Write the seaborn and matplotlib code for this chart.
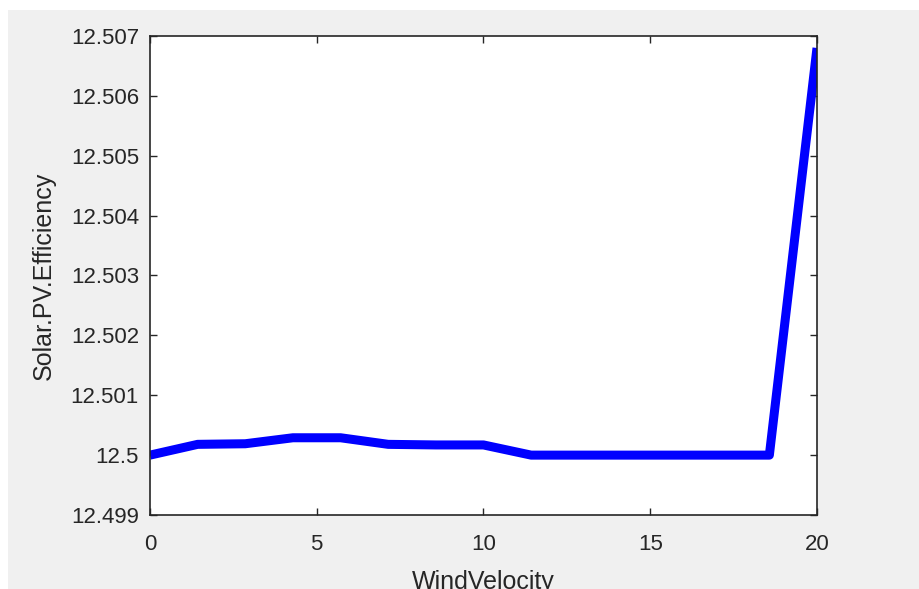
import numpy as np
import pandas as pd
import matplotlib
matplotlib.use("Agg")
import matplotlib.pyplot as plt
import seaborn as sns
from matplotlib.patches import Rectangle

# Data
wind_velocity = [0, 1.4286, 2.8571, 4.2857, 5.7143, 7.1429, 8.5714, 10.0,
                 11.4286, 12.8571, 14.2857, 15.7143, 17.1429, 18.5714, 20.0]
efficiency = [12.5000, 12.50018, 12.50019, 12.50029, 12.50029, 12.50018,
              12.50017, 12.50017, 12.50000, 12.50000, 12.50000, 12.50000,
              12.50000, 12.50000, 12.50680]
x_ticks = [0, 5, 10, 15, 20]
y_ticks = [12.499, 12.500, 12.501, 12.502, 12.503, 12.504, 12.505, 12.506, 12.507]
y_tick_labels = ["12.499", "12.5", "12.501", "12.502", "12.503", "12.504",
                 "12.505", "12.506", "12.507"]

df = pd.DataFrame({"WindVelocity": wind_velocity, "Efficiency": efficiency})

sns.set_theme(style="white")
plt.rcParams["font.family"] = ["Liberation Sans", "DejaVu Sans"]

text_color = "#262626"
fig = plt.figure(figsize=(9.2, 5.89), dpi=100)
fig.patch.set_facecolor("white")
# MATLAB-like gray figure region
fig.patches.append(Rectangle((8 / 920, 0), 1 - 8 / 920, 1 - 10 / 589,
                             transform=fig.transFigure, facecolor="#f0f0f0",
                             edgecolor="none", zorder=-10))

ax = fig.add_axes([150 / 920, 1 - 515 / 589, (817 - 150) / 920, (515 - 36) / 589])
ax.set_facecolor("white")

sns.lineplot(data=df, x="WindVelocity", y="Efficiency", ax=ax,
             color="#0000ff", linewidth=6.5, solid_joinstyle="round",
             solid_capstyle="butt")

ax.set_xlim(0, 20)
ax.set_ylim(12.499, 12.507)
ax.set_xticks(x_ticks)
ax.set_xticklabels([str(t) for t in x_ticks])
ax.set_yticks(y_ticks)
ax.set_yticklabels(y_tick_labels)

ax.tick_params(axis="both", direction="in", length=5, width=1.0,
               colors=text_color, labelsize=16, top=True, right=True,
               bottom=True, left=True)
ax.tick_params(axis="x", pad=14)
ax.tick_params(axis="y", pad=8)
for s in ax.spines.values():
    s.set_visible(True)
    s.set_color(text_color)
    s.set_linewidth(1.2)

ax.set_xlabel("WindVelocity", fontsize=18, color=text_color)
ax.set_ylabel("Solar.PV.Efficiency", fontsize=18, color=text_color)
ax.xaxis.set_label_coords(0.5, -0.115)
ax.yaxis.set_label_coords(-0.141, 0.5)

fig.savefig("out.png", dpi=100, facecolor=fig.get_facecolor())
